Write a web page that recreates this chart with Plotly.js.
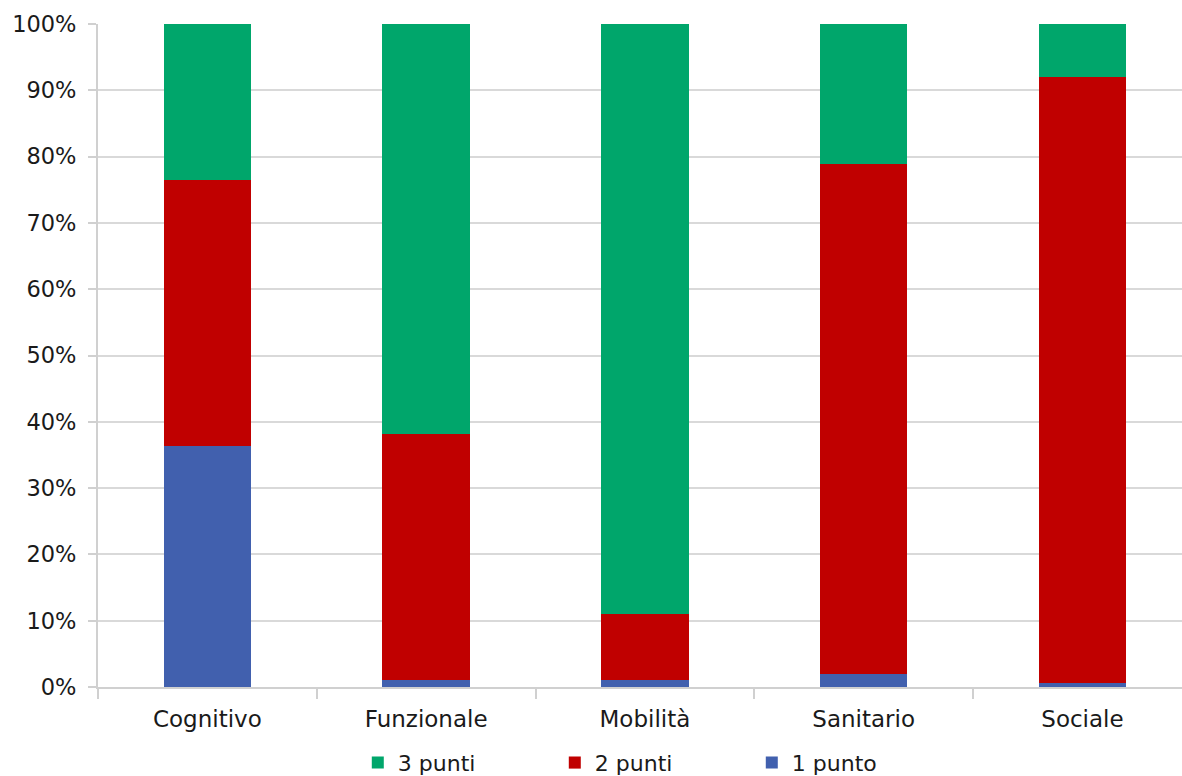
<!DOCTYPE html>
<html>
<head>
<meta charset="utf-8">
<script src="https://cdn.plot.ly/plotly-3.0.1.min.js"></script>
<style>html,body{margin:0;padding:0;background:#fff;}#chart{width:1182px;height:776px;}</style>
</head>
<body>
<div id="chart"></div>
<script>
const categories = ["Cognitivo", "Funzionale", "Mobilità", "Sanitario", "Sociale"];
const unPunto = [36.4, 1.0, 1.05, 2.0, 0.6];
const duePunti = [40.0, 37.1, 9.9, 76.9, 91.4];
const trePunti = [23.6, 61.9, 89.05, 21.1, 8.0];
const seriesNames = ["1 punto", "2 punti", "3 punti"];
const colors = ["#4160AE", "#C00000", "#00A66B"];

const series = [unPunto, duePunti, trePunti];
const traces = series.map((vals, i) => ({
  type: "bar",
  name: seriesNames[i],
  x: categories,
  y: vals,
  marker: {color: colors[i], line: {width: 0}},
  hoverinfo: "x+y+name"
}));

const layout = {
  width: 1182, height: 776,
  barmode: "stack",
  bargap: 0.6,
  margin: {l: 98, r: 0, t: 24, b: 89, autoexpand: false},
  paper_bgcolor: "#fff",
  plot_bgcolor: "#fff",
  font: {family: "DejaVu Sans, Verdana, sans-serif", size: 22, color: "#1a1a1a"},
  xaxis: {
    range: [-0.5, 4.455],
    automargin: false,
    tickson: "boundaries",
    ticks: "outside",
    ticklen: 10,
    tickcolor: "#d0d0d0",
    tickwidth: 2,
    showline: true,
    linecolor: "#d0d0d0",
    linewidth: 2,
    showgrid: false,
    zeroline: false,
    ticklabelstandoff: 10,
    tickfont: {size: 23}
  },
  yaxis: {
    range: [0, 100],
    automargin: false,
    dtick: 10,
    ticksuffix: "%",
    ticks: "outside",
    ticklen: 8,
    tickcolor: "#d0d0d0",
    tickwidth: 2,
    showline: true,
    linecolor: "#d0d0d0",
    linewidth: 2,
    gridcolor: "#d9d9d9",
    gridwidth: 2,
    zeroline: false,
    ticklabelstandoff: 7,
    tickfont: {size: 22.5}
  },
  showlegend: true,
  legend: {
    orientation: "h",
    traceorder: "reversed",
    xref: "container", yref: "container",
    x: 0.3027, xanchor: "left",
    y: 0.017, yanchor: "middle",
    font: {size: 22},
    entrywidth: 152,
    entrywidthmode: "pixels"
  }
};

Plotly.newPlot("chart", traces, layout, {displayModeBar: false, staticPlot: true});
</script>
</body>
</html>
